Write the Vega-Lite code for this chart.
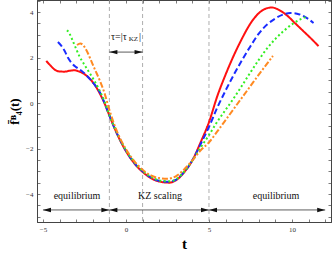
{
  "$schema": "https://vega.github.io/schema/vega-lite/v6.json",
  "width": 294,
  "height": 222,
  "autosize": "none",
  "padding": {"left": 37, "top": 0, "right": 1, "bottom": 31},
  "background": "white",
  "config": {
    "view": {"stroke": "#444", "strokeWidth": 1},
    "axis": {"labelFont": "Liberation Serif", "titleFont": "Liberation Serif", "labelFontSize": 7, "labelColor": "#333", "grid": false, "domainColor": "#444", "tickColor": "#444", "tickSize": -3, "tickWidth": 0.7}
  },
  "datasets": {
    "curves": [
      {"t": -4.8, "v": 1.85, "s": "A"}, {"t": -4.55, "v": 1.65, "s": "A"}, {"t": -4.3, "v": 1.47, "s": "A"}, {"t": -4.0, "v": 1.39, "s": "A"}, {"t": -3.7, "v": 1.38, "s": "A"}, {"t": -3.4, "v": 1.42, "s": "A"}, {"t": -3.1, "v": 1.44, "s": "A"}, {"t": -2.8, "v": 1.38, "s": "A"}, {"t": -2.5, "v": 1.27, "s": "A"}, {"t": -2.2, "v": 1.08, "s": "A"}, {"t": -1.9, "v": 0.82, "s": "A"}, {"t": -1.6, "v": 0.45, "s": "A"}, {"t": -1.3, "v": 0.0, "s": "A"}, {"t": -1.0, "v": -0.55, "s": "A"}, {"t": -0.5, "v": -1.42, "s": "A"}, {"t": 0, "v": -2.12, "s": "A"}, {"t": 0.5, "v": -2.65, "s": "A"}, {"t": 1.0, "v": -3.03, "s": "A"}, {"t": 1.5, "v": -3.3, "s": "A"}, {"t": 2.0, "v": -3.45, "s": "A"}, {"t": 2.6, "v": -3.5, "s": "A"}, {"t": 3.0, "v": -3.4, "s": "A"}, {"t": 3.5, "v": -3.05, "s": "A"}, {"t": 4.0, "v": -2.52, "s": "A"}, {"t": 4.5, "v": -1.72, "s": "A"}, {"t": 5.0, "v": -0.84, "s": "A"}, {"t": 5.5, "v": 0.3, "s": "A"}, {"t": 6.0, "v": 1.25, "s": "A"}, {"t": 6.5, "v": 2.1, "s": "A"}, {"t": 7.0, "v": 2.85, "s": "A"}, {"t": 7.5, "v": 3.5, "s": "A"}, {"t": 8.0, "v": 3.95, "s": "A"}, {"t": 8.5, "v": 4.17, "s": "A"}, {"t": 8.8, "v": 4.2, "s": "A"}, {"t": 9.2, "v": 4.1, "s": "A"}, {"t": 9.7, "v": 3.85, "s": "A"}, {"t": 10.2, "v": 3.5, "s": "A"}, {"t": 10.7, "v": 3.15, "s": "A"}, {"t": 11.2, "v": 2.8, "s": "A"}, {"t": 11.6, "v": 2.5, "s": "A"},
      {"t": -4.1, "v": 2.68, "s": "B"}, {"t": -3.9, "v": 2.52, "s": "B"}, {"t": -3.7, "v": 2.3, "s": "B"}, {"t": -3.5, "v": 2.0, "s": "B"}, {"t": -3.3, "v": 1.78, "s": "B"}, {"t": -3.0, "v": 1.58, "s": "B"}, {"t": -2.7, "v": 1.43, "s": "B"}, {"t": -2.4, "v": 1.23, "s": "B"}, {"t": -2.1, "v": 1.0, "s": "B"}, {"t": -1.8, "v": 0.72, "s": "B"}, {"t": -1.5, "v": 0.37, "s": "B"}, {"t": -1.3, "v": 0.02, "s": "B"}, {"t": -1.0, "v": -0.55, "s": "B"}, {"t": -0.5, "v": -1.4, "s": "B"}, {"t": 0, "v": -2.1, "s": "B"}, {"t": 0.5, "v": -2.63, "s": "B"}, {"t": 1.0, "v": -3.0, "s": "B"}, {"t": 1.5, "v": -3.27, "s": "B"}, {"t": 2.0, "v": -3.42, "s": "B"}, {"t": 2.6, "v": -3.46, "s": "B"}, {"t": 3.0, "v": -3.38, "s": "B"}, {"t": 3.5, "v": -3.03, "s": "B"}, {"t": 4.0, "v": -2.52, "s": "B"}, {"t": 4.5, "v": -1.8, "s": "B"}, {"t": 5.0, "v": -1.05, "s": "B"}, {"t": 5.5, "v": -0.2, "s": "B"}, {"t": 6.0, "v": 0.55, "s": "B"}, {"t": 6.5, "v": 1.25, "s": "B"}, {"t": 7.0, "v": 1.9, "s": "B"}, {"t": 7.5, "v": 2.5, "s": "B"}, {"t": 8.0, "v": 3.05, "s": "B"}, {"t": 8.5, "v": 3.45, "s": "B"}, {"t": 9.0, "v": 3.72, "s": "B"}, {"t": 9.5, "v": 3.9, "s": "B"}, {"t": 9.9, "v": 3.96, "s": "B"}, {"t": 10.3, "v": 3.93, "s": "B"}, {"t": 10.8, "v": 3.78, "s": "B"}, {"t": 11.3, "v": 3.52, "s": "B"},
      {"t": -3.55, "v": 3.2, "s": "C"}, {"t": -3.4, "v": 3.05, "s": "C"}, {"t": -3.2, "v": 2.72, "s": "C"}, {"t": -3.0, "v": 2.38, "s": "C"}, {"t": -2.8, "v": 2.05, "s": "C"}, {"t": -2.5, "v": 1.68, "s": "C"}, {"t": -2.2, "v": 1.33, "s": "C"}, {"t": -1.9, "v": 0.97, "s": "C"}, {"t": -1.6, "v": 0.57, "s": "C"}, {"t": -1.3, "v": 0.08, "s": "C"}, {"t": -1.0, "v": -0.52, "s": "C"}, {"t": -0.5, "v": -1.38, "s": "C"}, {"t": 0, "v": -2.08, "s": "C"}, {"t": 0.5, "v": -2.6, "s": "C"}, {"t": 1.0, "v": -2.98, "s": "C"}, {"t": 1.5, "v": -3.24, "s": "C"}, {"t": 2.0, "v": -3.4, "s": "C"}, {"t": 2.6, "v": -3.44, "s": "C"}, {"t": 3.0, "v": -3.36, "s": "C"}, {"t": 3.5, "v": -3.02, "s": "C"}, {"t": 4.0, "v": -2.53, "s": "C"}, {"t": 4.5, "v": -1.95, "s": "C"}, {"t": 5.0, "v": -1.41, "s": "C"}, {"t": 5.5, "v": -0.82, "s": "C"}, {"t": 6.0, "v": -0.3, "s": "C"}, {"t": 6.5, "v": 0.22, "s": "C"}, {"t": 7.0, "v": 0.78, "s": "C"}, {"t": 7.5, "v": 1.35, "s": "C"}, {"t": 8.0, "v": 1.9, "s": "C"}, {"t": 8.5, "v": 2.4, "s": "C"}, {"t": 9.0, "v": 2.82, "s": "C"}, {"t": 9.5, "v": 3.17, "s": "C"}, {"t": 10.0, "v": 3.46, "s": "C"}, {"t": 10.5, "v": 3.68, "s": "C"}, {"t": 10.9, "v": 3.8, "s": "C"},
      {"t": -2.95, "v": 2.55, "s": "D"}, {"t": -2.75, "v": 2.62, "s": "D"}, {"t": -2.55, "v": 2.52, "s": "D"}, {"t": -2.35, "v": 2.28, "s": "D"}, {"t": -2.15, "v": 1.95, "s": "D"}, {"t": -1.9, "v": 1.52, "s": "D"}, {"t": -1.6, "v": 1.03, "s": "D"}, {"t": -1.3, "v": 0.45, "s": "D"}, {"t": -1.0, "v": -0.3, "s": "D"}, {"t": -0.5, "v": -1.32, "s": "D"}, {"t": 0, "v": -2.03, "s": "D"}, {"t": 0.5, "v": -2.55, "s": "D"}, {"t": 1.0, "v": -2.93, "s": "D"}, {"t": 1.5, "v": -3.18, "s": "D"}, {"t": 2.0, "v": -3.3, "s": "D"}, {"t": 2.5, "v": -3.33, "s": "D"}, {"t": 3.0, "v": -3.22, "s": "D"}, {"t": 3.5, "v": -2.92, "s": "D"}, {"t": 4.0, "v": -2.52, "s": "D"}, {"t": 4.5, "v": -2.08, "s": "D"}, {"t": 5.0, "v": -1.73, "s": "D"}, {"t": 5.5, "v": -1.25, "s": "D"}, {"t": 6.0, "v": -0.75, "s": "D"}, {"t": 6.5, "v": -0.25, "s": "D"}, {"t": 7.0, "v": 0.25, "s": "D"}, {"t": 7.5, "v": 0.75, "s": "D"}, {"t": 8.0, "v": 1.25, "s": "D"}, {"t": 8.5, "v": 1.73, "s": "D"}, {"t": 8.85, "v": 2.07, "s": "D"}
    ],
    "vlines": [{"t": -1}, {"t": 1}, {"t": 5}],
    "arrows": [
      {"t1": -5, "t2": -1, "v": -4.7},
      {"t1": -1, "t2": 5, "v": -4.7},
      {"t1": 5, "t2": 12, "v": -4.7},
      {"t1": -1, "t2": 1, "v": 2.24}
    ],
    "heads": [
      {"t": -5, "v": -4.7, "dir": "L"}, {"t": -1, "v": -4.7, "dir": "R"},
      {"t": -1, "v": -4.7, "dir": "L"}, {"t": 5, "v": -4.7, "dir": "R"},
      {"t": 5, "v": -4.7, "dir": "L"}, {"t": 12, "v": -4.7, "dir": "R"},
      {"t": -1, "v": 2.24, "dir": "L"}, {"t": 1, "v": 2.24, "dir": "R"}
    ],
    "labels": [
      {"t": -2.95, "v": -4.09, "text": "equilibrium"},
      {"t": 2.05, "v": -4.09, "text": "KZ scaling"},
      {"t": 9.04, "v": -4.09, "text": "equilibrium"}
    ],
    "tau": [
      {"t": -0.9, "v": 2.9, "part": "τ=|τ", "kind": "main"},
      {"t": 0.45, "v": 2.82, "part": "KZ", "kind": "sub"},
      {"t": 0.78, "v": 2.9, "part": "|", "kind": "main"}
    ]
  },
  "resolve": {"axis": {"x": "independent", "y": "independent"}},
  "layer": [
    {
      "data": {"name": "vlines"},
      "mark": {"type": "rule", "color": "#999", "strokeDash": [4, 3], "strokeWidth": 0.8},
      "encoding": {
        "x": {"field": "t", "type": "quantitative", "scale": {"domain": [-5.36, 12.35], "nice": false, "zero": false},
          "axis": {"orient": "top", "values": [-5,-4,-3,-2,-1,0,1,2,3,4,5,6,7,8,9,10,11,12], "labels": false, "title": null}}
      }
    },
    {
      "data": {"name": "arrows"},
      "mark": {"type": "rule", "color": "#333", "strokeWidth": 0.8},
      "encoding": {
        "x": {"field": "t1", "type": "quantitative", "axis": null},
        "x2": {"field": "t2"},
        "y": {"field": "v", "type": "quantitative", "scale": {"domain": [-5.23, 4.53], "nice": false, "zero": false},
          "axis": {"orient": "right", "values": [-5,-4.5,-4,-3.5,-3,-2.5,-2,-1.5,-1,-0.5,0,0.5,1,1.5,2,2.5,3,3.5,4,4.5], "labels": false, "title": null}}
      }
    },
    {
      "data": {"name": "heads"},
      "transform": [{"filter": "datum.dir == 'R'"}],
      "mark": {"type": "point", "filled": true, "color": "#111", "opacity": 1, "size": 64, "shape": "M0,0L-2,-0.55L-2,0.55Z"},
      "encoding": {
        "x": {"field": "t", "type": "quantitative", "axis": null},
        "y": {"field": "v", "type": "quantitative", "axis": null}
      }
    },
    {
      "data": {"name": "heads"},
      "transform": [{"filter": "datum.dir == 'L'"}],
      "mark": {"type": "point", "filled": true, "color": "#111", "opacity": 1, "size": 64, "shape": "M0,0L2,-0.55L2,0.55Z"},
      "encoding": {
        "x": {"field": "t", "type": "quantitative", "axis": null},
        "y": {"field": "v", "type": "quantitative", "axis": null}
      }
    },
    {
      "data": {"name": "labels"},
      "mark": {"type": "text", "font": "Liberation Serif", "fontSize": 10, "color": "#111", "baseline": "middle", "align": "center"},
      "encoding": {
        "x": {"field": "t", "type": "quantitative", "axis": null},
        "y": {"field": "v", "type": "quantitative", "axis": null},
        "text": {"field": "text"}
      }
    },
    {
      "data": {"name": "tau"},
      "transform": [{"filter": "datum.kind == 'main'"}],
      "mark": {"type": "text", "font": "Liberation Serif", "fontSize": 10, "color": "#111", "baseline": "middle", "align": "left"},
      "encoding": {
        "x": {"field": "t", "type": "quantitative", "axis": null},
        "y": {"field": "v", "type": "quantitative", "axis": null},
        "text": {"field": "part"}
      }
    },
    {
      "data": {"name": "tau"},
      "transform": [{"filter": "datum.kind == 'sub'"}],
      "mark": {"type": "text", "font": "Liberation Serif", "fontSize": 7, "color": "#111", "baseline": "middle", "align": "center"},
      "encoding": {
        "x": {"field": "t", "type": "quantitative", "axis": null},
        "y": {"field": "v", "type": "quantitative", "axis": null},
        "text": {"field": "part"}
      }
    },
    {
      "data": {"name": "curves"},
      "mark": {"type": "line", "strokeWidth": 2, "interpolate": "monotone", "strokeCap": "butt"},
      "encoding": {
        "x": {"field": "t", "type": "quantitative",
          "axis": {"orient": "bottom", "values": [-5,-4,-3,-2,-1,0,1,2,3,4,5,6,7,8,9,10,11,12], "labelExpr": "datum.value % 5 == 0 ? (datum.value < 0 ? '−' + abs(datum.value) : '' + datum.value) : ''", "labelPadding": 6, "title": "t", "titleFontSize": 15, "titleFontWeight": "bold", "titlePadding": 4}},
        "y": {"field": "v", "type": "quantitative",
          "axis": {"orient": "left", "values": [-5,-4.5,-4,-3.5,-3,-2.5,-2,-1.5,-1,-0.5,0,0.5,1,1.5,2,2.5,3,3.5,4,4.5], "labelExpr": "datum.value % 2 == 0 ? (datum.value < 0 ? '−' + abs(datum.value) : '' + datum.value) : ''", "labelPadding": 7, "title": "f̄ᴮ₄(t)", "titleFontSize": 13, "titleFontWeight": "bold", "titlePadding": 4}},
        "color": {"field": "s", "type": "nominal", "legend": null,
          "scale": {"domain": ["A", "B", "C", "D"], "range": ["#ff1010", "#1a2cff", "#33ee22", "#ff8a22"]}},
        "strokeDash": {"field": "s", "type": "nominal", "legend": null,
          "scale": {"domain": ["A", "B", "C", "D"], "range": [[1, 0], [6, 3], [2, 2.5], [6, 2, 2, 2]]}}
      }
    }
  ]
}
